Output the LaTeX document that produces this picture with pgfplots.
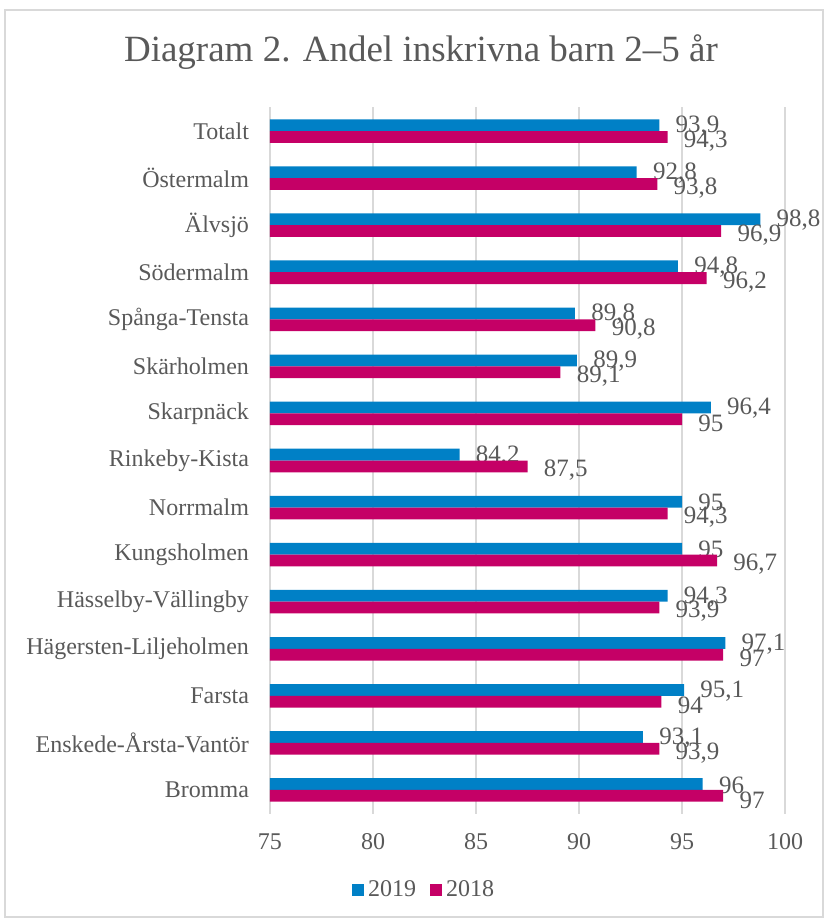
\documentclass[border=0pt]{standalone}
\usepackage{pgfplots}
\pgfplotsset{compat=1.18}
\usepackage{fontspec}
\setmainfont{Liberation Serif}
\definecolor{blau}{HTML}{0080C6}
\definecolor{mag}{HTML}{C50066}
\definecolor{txt}{HTML}{595959}
\definecolor{grd}{HTML}{D9D9D9}

\begin{document}
\begin{tikzpicture}
\path[use as bounding box] (0,0) rectangle (412.5pt,460.5pt);
\draw[grd, line width=0.75pt] (2.5pt,2pt) rectangle (411.5pt,455.5pt);
\node[txt, font=\fontsize{18.5}{22}\selectfont] at (210.5pt,434.5pt) {Diagram 2. Andel inskrivna barn 2–5 år};
\begin{axis}[
    at={(135pt,53.75pt)}, anchor=south west,
    scale only axis, width=257.5pt, height=353pt,
    xbar, bar width=0.25,
    xmin=75, xmax=100, ymin=-0.5, ymax=14.5, y dir=reverse,
    xtick={75,80,...,100},
    ytick={0,...,14},
    yticklabels={Totalt, Östermalm, Älvsjö, Södermalm, Spånga-Tensta, Skärholmen,
        Skarpnäck, Rinkeby-Kista\ , Norrmalm, Kungsholmen, Hässelby-Vällingby\ ,
        Hägersten-Liljeholmen, Farsta, Enskede-Årsta-Vantör, Bromma},
    axis lines=left, axis line style={draw=none},
    major tick length=0pt,
    xmajorgrids, grid style={grd, line width=0.75pt},
    tick label style={txt, font=\fontsize{12}{14}\selectfont},
    xticklabel style={yshift=-6.5pt},
    yticklabel style={xshift=-7pt},
    /pgf/number format/assume math mode=true,
    /pgf/number format/use comma,
    clip mode=individual,
    nodes near coords,
    every node near coord/.append style={anchor=west, inner sep=0pt, xshift=8pt,
        txt, font=\fontsize{12.5}{14}\selectfont},
    legend columns=2,
    legend style={draw=none, at={(0.301,-0.108)}, anchor=center,
        font=\fontsize{12}{14}\selectfont, text=txt,
        /tikz/every even column/.append style={column sep=5pt}},
    legend image code/.code={\draw[#1,draw=none] (0pt,-3pt) rectangle (6pt,3pt);},
]
\addplot[fill=blau, draw=none, bar shift=-0.125,
    every node near coord/.append style={yshift=-0.5pt}] coordinates {
    (93.9,0) (92.8,1) (98.8,2) (94.8,3) (89.8,4) (89.9,5) (96.4,6) (84.2,7)
    (95,8) (95,9) (94.3,10) (97.1,11) (95.1,12) (93.1,13) (96,14)};
\addplot[fill=mag, draw=none, bar shift=0.125,
    every node near coord/.append style={yshift=-2pt}] coordinates {
    (94.3,0) (93.8,1) (96.9,2) (96.2,3) (90.8,4) (89.1,5) (95,6) (87.5,7)
    (94.3,8) (96.7,9) (93.9,10) (97,11) (94,12) (93.9,13) (97,14)};
\legend{2019, 2018}
\end{axis}
\end{tikzpicture}
\end{document}
